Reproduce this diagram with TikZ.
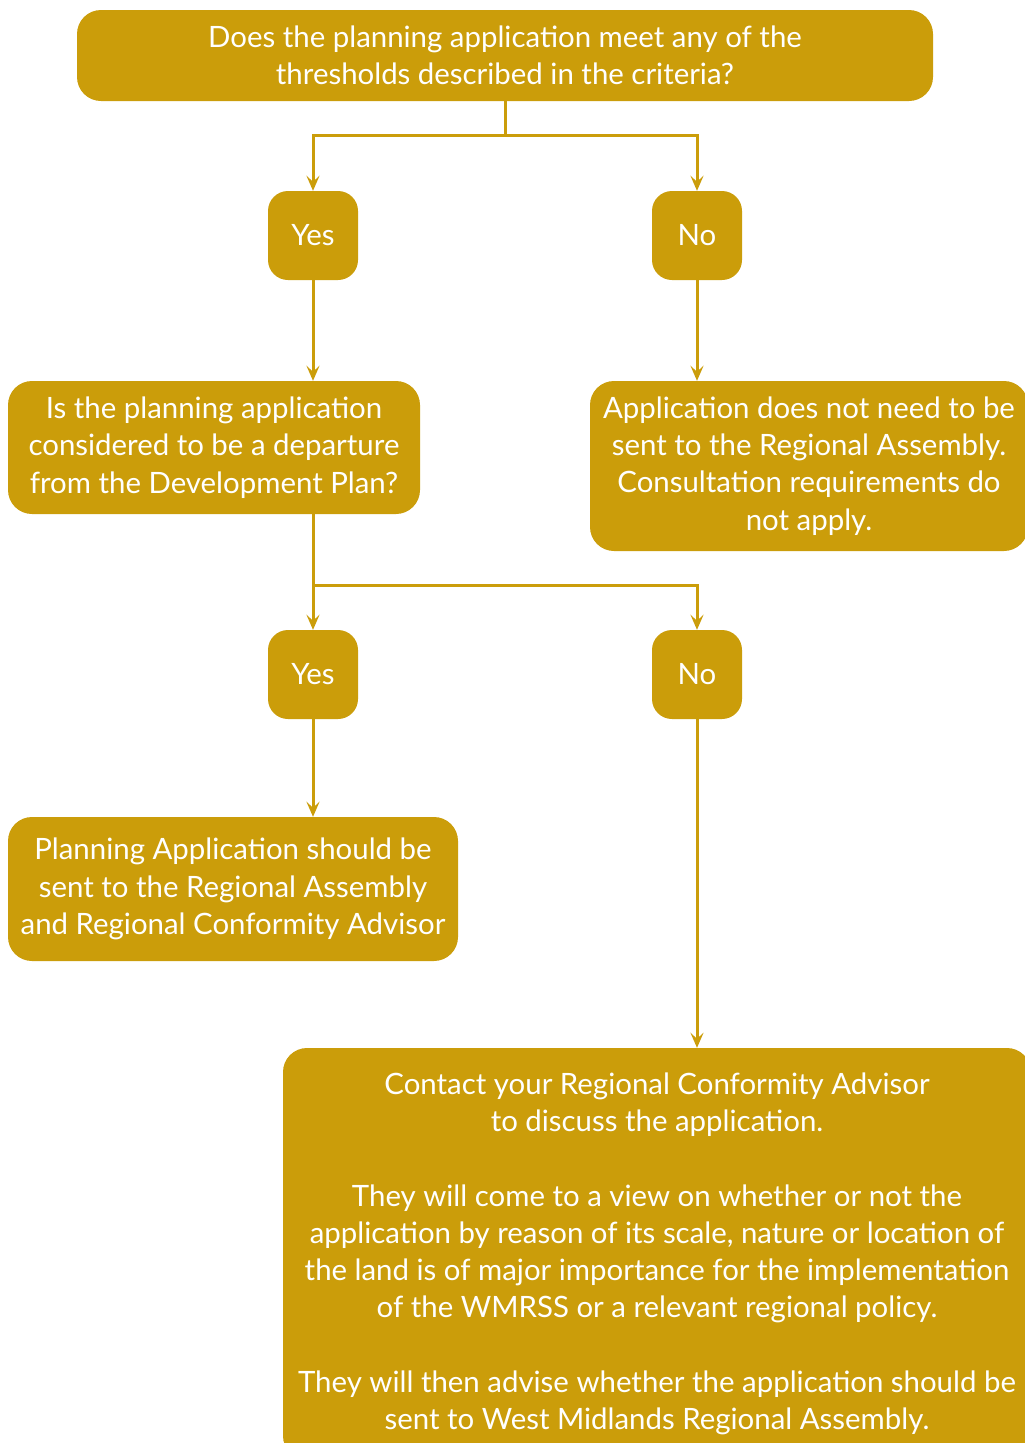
\documentclass[tikz,border=0pt]{standalone}
\usepackage{fontspec}
\setmainfont{Lato}
\usetikzlibrary{arrows.meta}
\definecolor{gold}{RGB}{203,157,10}
\tikzset{
  box/.style={fill=gold, text=white, rounded corners=24pt, align=center, inner sep=0pt,
    font=\fontsize{29.4}{37.2}\selectfont},
  yn/.style={box, rounded corners=20pt, minimum width=90pt, minimum height=89pt},
  conn/.style={draw=gold, line width=3pt, -{Stealth[length=15pt,width=13pt,inset=6pt]}},
  plain/.style={draw=gold, line width=3pt}
}
\begin{document}
\begin{tikzpicture}[x=1pt,y=-1pt]
\useasboundingbox (0,0) rectangle (1025,1443);
\node[box, minimum width=856pt, minimum height=91pt] (top) at (505,55.5)
  {Does the planning application meet any of the\\thresholds described in the criteria?};
\node[yn] (yes1) at (313,235.5) {Yes};
\node[yn] (no1) at (697,235.5) {No};
\node[box, minimum width=412pt, minimum height=133pt] (q2) at (214,447.5)
  {Is the planning application\\considered to be a departure\\from the Development Plan?};
\node[box, minimum width=438pt, minimum height=170pt] (notsent) at (809,466)
  {Application does not need to be\\sent to the Regional Assembly.\\Consultation requirements do\\not apply.};
\node[yn] (yes2) at (313,674.5) {Yes};
\node[yn] (no2) at (697,674.5) {No};
\node[box, minimum width=450pt, minimum height=144pt] (plan) at (233,889)
  {Planning Application should be\\sent to the Regional Assembly\\and Regional Conformity Advisor};
\node[box, minimum width=748pt, minimum height=412pt] (contact) at (657,1254)
  {Contact your Regional Conformity Advisor\\to discuss the application.\\[37.2pt]
   They will come to a view on whether or not the\\application by reason of its scale, nature or location of\\the land is of major importance for the implementation\\of the WMRSS or a relevant regional policy.\\[37.2pt]
   They will then advise whether the application should be\\sent to West Midlands Regional Assembly.};
\coordinate (j1) at (top.south |- 0,135);
\coordinate (j2) at (yes2.north |- 0,585);
\draw[plain] (top.south) -- (j1);
\draw[conn] (j1) -| (yes1.north);
\draw[conn] (j1) -| (no1.north);
\draw[conn] (yes1.south) -- (yes1.south |- q2.north);
\draw[conn] (no1.south) -- (notsent.north -| no1.south);
\draw[plain] (q2.south -| yes2.north) -- (j2);
\draw[conn] (j2) -- (yes2.north);
\draw[conn] (j2) -| (no2.north);
\draw[conn] (yes2.south) -- (yes2.south |- plan.north);
\draw[conn] (no2.south) -- (no2.south |- contact.north);
\end{tikzpicture}
\end{document}
